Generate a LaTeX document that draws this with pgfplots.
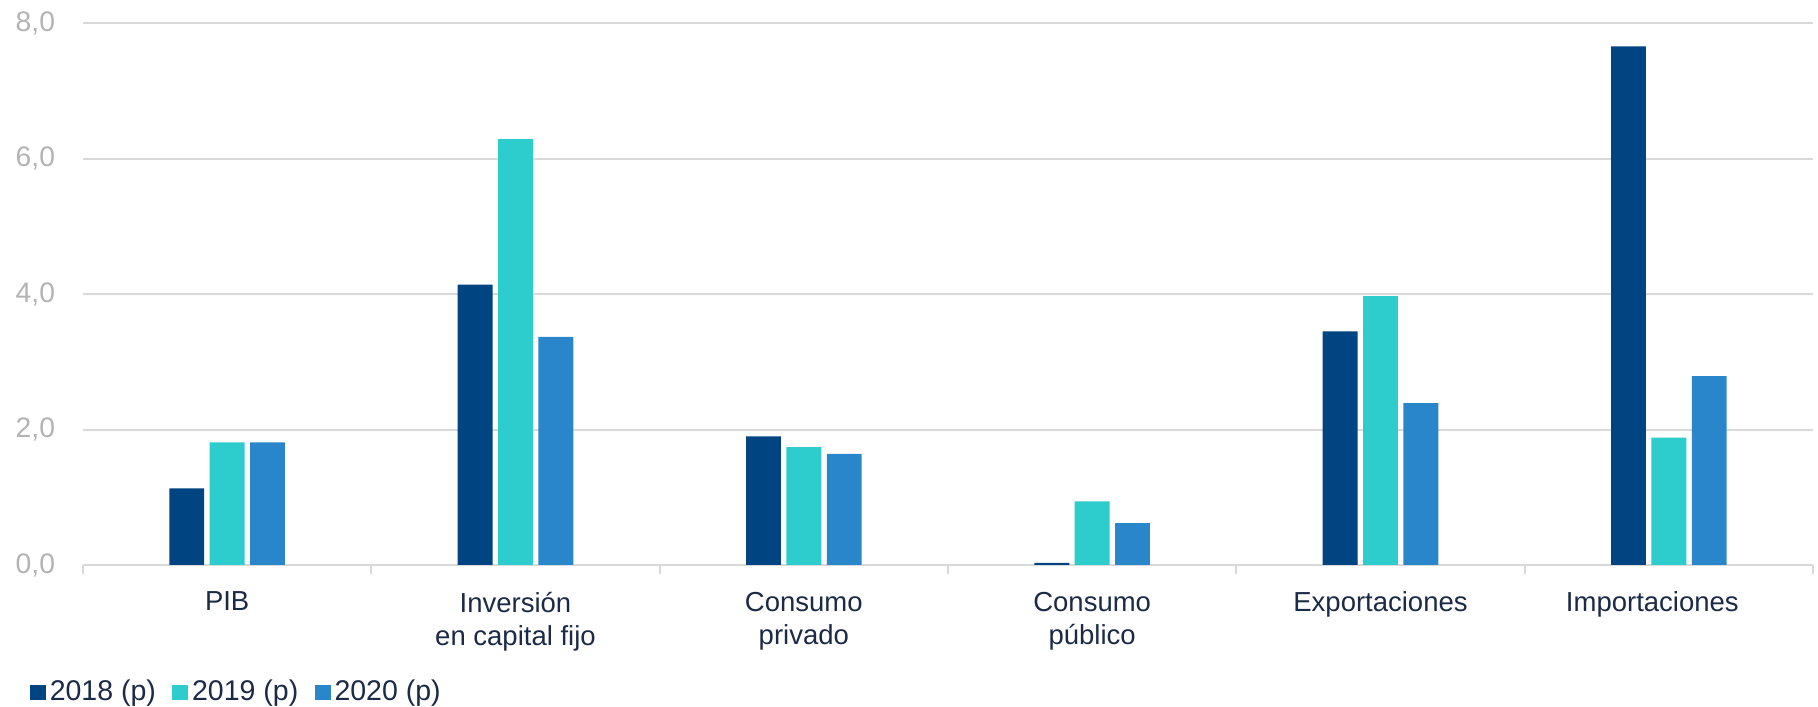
\documentclass[border=0pt]{standalone}
\usepackage{pgfplots}
\pgfplotsset{compat=1.18}
\usepackage{fontspec}
\setmainfont{Liberation Sans}
\definecolor{c18}{HTML}{004481}
\definecolor{c19}{HTML}{2DCCCD}
\definecolor{c20}{HTML}{2A86CA}
\definecolor{gridc}{HTML}{D9D9D9}
\definecolor{ytc}{HTML}{B3B3B3}
\definecolor{txt}{HTML}{1B2A47}
\begin{document}
\begin{tikzpicture}
\begin{axis}[
  scale only axis,
  width=692pt, height=216.7pt,
  xmin=-0.5, xmax=5.5,
  ymin=0, ymax=8,
  ytick={0,2,4,6,8},
  xtick={0,1,2,3,4,5},
  xticklabels={PIB,{Inversión\\en capital fijo},{Consumo\\privado},{Consumo\\público},Exportaciones,{Importaciones\hspace*{13.2pt}}},
  extra x ticks={-0.5,0.5,1.5,2.5,3.5,4.5,5.5},
  extra x tick labels={},
  extra x tick style={xtick style={draw=gridc, line width=0.8pt}, major tick length=3.6pt},
  xtick style={draw=none},
  ytick style={draw=none},
  tick align=outside,
  tick pos=left,
  axis line style={draw=none},
  ymajorgrids,
  grid style={draw=gridc, line width=0.8pt},
  /pgf/number format/.cd, fixed, fixed zerofill, precision=1, use comma, assume math mode=true,
  /pgfplots/.cd,
  yticklabel style={font=\fontsize{11.3}{13}\selectfont, text=ytc, anchor=east, xshift=-3.4pt},
  xticklabel style={font=\fontsize{11}{13.3}\selectfont, text=txt, align=center, anchor=north, yshift=-3pt},
  legend style={at={(0,0)}, anchor=west, xshift=-21.4pt, yshift=-51pt, draw=none, fill=none, inner sep=0pt,
    font=\fontsize{11.4}{13}\selectfont, text=txt, legend columns=3,
    nodes={inner xsep=1pt},
    /tikz/every even column/.append style={column sep=5.6pt},
    /tikz/every odd column/.append style={column sep=0.6pt}},
  legend image code/.code={\fill[#1] (0pt,-3.15pt) rectangle (6.3pt,3.15pt);},
  legend cell align=left,
]
\addplot[ybar, bar width=0.121, bar shift=-0.140, fill=c18, draw=none] coordinates {(0,1.13) (1,4.14) (2,1.90) (3,0.03) (4,3.45) (5,7.66)};
\addplot[ybar, bar width=0.121, bar shift=0, fill=c19, draw=none] coordinates {(0,1.81) (1,6.29) (2,1.74) (3,0.94) (4,3.97) (5,1.88)};
\addplot[ybar, bar width=0.121, bar shift=0.140, fill=c20, draw=none] coordinates {(0,1.81) (1,3.37) (2,1.64) (3,0.62) (4,2.39) (5,2.79)};
\legend{2018 (p),2019 (p),2020 (p)}
\end{axis}
\pgfresetboundingbox
\path (current axis.south west) ++(-33.2pt,-56.8pt) rectangle ++(727.2pt,282.8pt);
\end{tikzpicture}
\end{document}
